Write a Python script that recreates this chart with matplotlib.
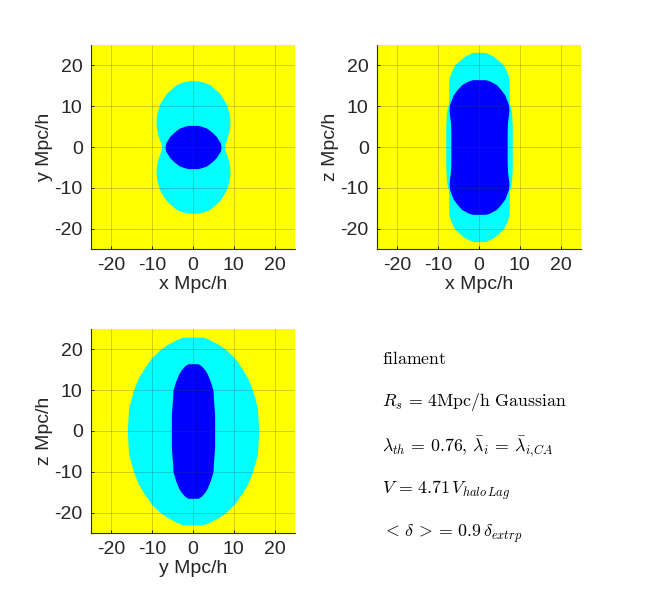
import numpy as np
import matplotlib
matplotlib.use('Agg')
import matplotlib.pyplot as plt

plt.rcParams['font.family'] = ['Liberation Sans', 'DejaVu Sans']
plt.rcParams['mathtext.fontset'] = 'cm'
plt.rcParams['axes.unicode_minus'] = False

ticks = [-20, -10, 0, 10, 20]

# boundary: height above the mid plane, half width there
xy_outer_h = [0, 1, 2, 3.8, 5, 6.7, 8, 10.4, 11.5, 13.2, 14.5, 15.3, 15.9, 16.2, 16.25]
xy_outer_w = [7.7, 7.9, 8.3, 8.8, 9.0, 9.05, 8.9, 8.2, 7.6, 6.5, 5.0, 4.1, 2.6, 1.2, 0]
xy_inner_h = [0, 1, 2.6, 3.6, 4.66, 5.1, 5.3, 5.3]
xy_inner_w = [6.86, 6.7, 5.7, 4.7, 3.3, 2.0, 1.2, 0]

xz_outer_h = [0, 5, 8.3, 10, 10.5, 13.2, 16.5, 18, 20.2, 22.2, 23, 23.2, 23.2]
xz_outer_w = [8.15, 8.15, 8.0, 7.7, 7.45, 7.4, 7.4, 7.0, 5.9, 3.6, 2.0, 1.3, 0]
xz_inner_h = [0, 4, 6, 9, 10.5, 12.8, 14, 15.3, 16.2, 16.5, 16.5]
xz_inner_w = [6.9, 6.9, 7.0, 7.35, 7.2, 6.3, 5.4, 4.25, 2.6, 1.6, 0]

yz_outer_h = [0, 5.6, 10, 13, 15, 17.9, 20, 21.2, 22.4, 23, 23]
yz_outer_w = [16.1, 15.8, 14.6, 13.4, 12.2, 10.2, 8.0, 6.3, 4.0, 2.6, 0]
yz_inner_h = [0, 4, 8, 10, 12, 14, 15, 16, 16.4, 16.5, 16.5]
yz_inner_w = [5.3, 5.3, 5.0, 4.9, 4.3, 3.5, 2.9, 2.0, 1.4, 1.1, 0]

panels = [
    ([91, 45], 'x Mpc/h', 'y Mpc/h', xy_outer_h, xy_outer_w, xy_inner_h, xy_inner_w),
    ([377, 45], 'x Mpc/h', 'z Mpc/h', xz_outer_h, xz_outer_w, xz_inner_h, xz_inner_w),
    ([91, 329], 'y Mpc/h', 'z Mpc/h', yz_outer_h, yz_outer_w, yz_inner_h, yz_inner_w),
]

notes = [
    r'$\mathrm{filament}$',
    r'$R_s\,=\,4\mathrm{Mpc/h\ Gaussian}$',
    r'$\lambda_{th}\,=\,0.76,\,\bar{\lambda}_i\,=\,\bar{\lambda}_{i{,}CA}$',
    r'$V\,=\,4.71\,V_{halo\,Lag}$',
    r'${<}\,\delta\,{>}{=}\,0.9\,\delta_{extrp}$',
]
note_y = [360, 402, 447, 490, 534]


def mirror(h, w):
    h = np.array(h, dtype=float)
    w = np.array(w, dtype=float)
    return np.concatenate([-h[::-1], h[1:]]), np.concatenate([w[::-1], w[1:]])


W, H = 650, 600
fig = plt.figure(figsize=(W / 100, H / 100), dpi=100, facecolor='white')

for corner, xlab, ylab, oh, ow, ih, iw in panels:
    ax = fig.add_axes([corner[0] / W, 1 - (corner[1] + 204) / H, 204 / W, 204 / H])
    ax.set_facecolor('#ffff00')
    h, w = mirror(oh, ow)
    ax.fill_betweenx(h, -w, w, color='#00ffff', lw=0)
    h, w = mirror(ih, iw)
    ax.fill_betweenx(h, -w, w, color='#0000ff', lw=0)
    ax.set_xlim(-25, 25)
    ax.set_ylim(-25, 25)
    ax.set_xticks(ticks)
    ax.set_yticks(ticks)
    ax.grid(True, color='#404040', alpha=0.25, lw=0.7)
    ax.set_axisbelow(False)
    ax.spines['top'].set_visible(False)
    ax.spines['right'].set_visible(False)
    ax.spines['left'].set_color('#303030')
    ax.spines['bottom'].set_color('#303030')
    ax.tick_params(direction='in', length=2.5, width=0.7, labelsize=14, pad=6, colors='#262626')
    ax.set_xlabel(xlab, fontsize=14, labelpad=1, color='#262626')
    ax.set_ylabel(ylab, fontsize=14, labelpad=1, color='#262626')

for s, y in zip(notes, note_y):
    fig.text(382 / W, 1 - y / H, s, fontsize=12.8, ha='left', va='center', color='black')

fig.savefig('out.png', dpi=100)
